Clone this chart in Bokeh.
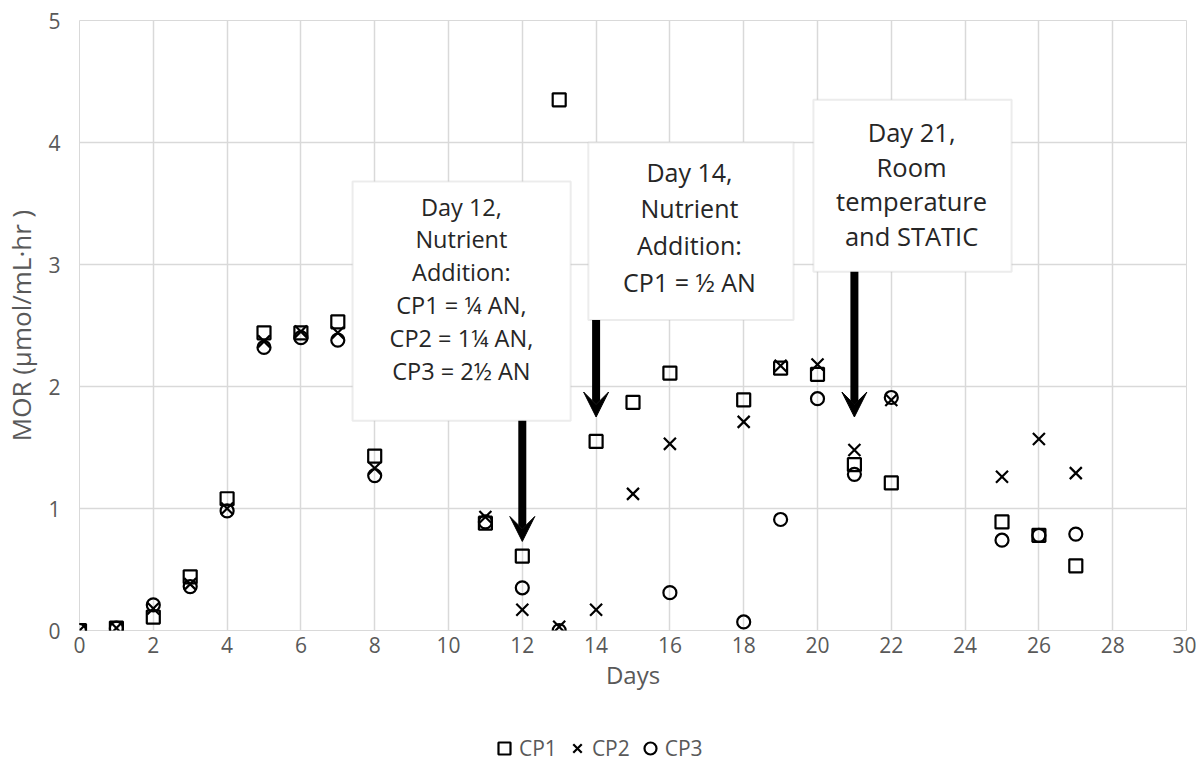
from bokeh.plotting import figure
from bokeh.layouts import column
from bokeh.models import (ColumnDataSource, BoxAnnotation, Label, Arrow, VeeHead,
                          Legend, LegendItem, FixedTicker)
from bokeh.embed import file_html
from bokeh.resources import INLINE
import numpy as np

# ---- data ----
days = [0, 1, 2, 3, 4, 5, 6, 7, 8, 11, 12, 13, 14, 15, 16, 18, 19, 20, 21, 22, 25, 26, 27]
cp1 = [0.0, 0.02, 0.11, 0.44, 1.08, 2.44, 2.44, 2.53, 1.43, 0.88, 0.61, 4.35, 1.55, 1.87, 2.11, 1.89, 2.15, 2.10, 1.36, 1.21, 0.89, 0.78, 0.53]
cp2 = [0.0, 0.02, 0.18, 0.38, 1.00, 2.37, 2.45, 2.44, 1.33, 0.93, 0.17, 0.03, 0.17, 1.12, 1.53, 1.71, 2.17, 2.18, 1.48, 1.89, 1.26, 1.57, 1.29]
cp3 = [0.0, 0.02, 0.21, 0.36, 0.98, 2.32, 2.40, 2.38, 1.27, 0.89, 0.35, 0.0, None, None, 0.31, 0.07, 0.91, 1.90, 1.28, 1.91, 0.74, 0.78, 0.79]
series_names = ["CP1", "CP2", "CP3"]

x_ticks = list(range(0, 31, 2))
y_ticks = [0, 1, 2, 3, 4, 5]

notes = [
    "Day 12,\nNutrient\nAddition:\nCP1 = ¼ AN,\nCP2 = 1¼ AN,\nCP3 = 2½ AN",
    "Day 14,\nNutrient\nAddition:\nCP1 = ½ AN",
    "Day 21,\nRoom\ntemperature\nand STATIC",
]
note_days = [12, 14, 21]

FONT = "Open Sans"
GRID = "#d9d9d9"
TXT = "#595959"

src = ColumnDataSource(dict(
    day=days,
    cp1=cp1,
    cp2=cp2,
    cp3=[np.nan if v is None else v for v in cp3],
))

p = figure(width=1196, height=693, output_backend="svg", toolbar_location=None,
           x_range=(0, 30), y_range=(0, 5),
           min_border_left=79, min_border_right=10, min_border_top=20, min_border_bottom=62)

p.outline_line_color = GRID
p.background_fill_color = "white"
p.border_fill_color = "white"

for ax in (p.xaxis, p.yaxis):
    ax.axis_line_color = None
    ax.major_tick_line_color = None
    ax.minor_tick_line_color = None
    ax.major_tick_out = 0
    ax.major_tick_in = 0
    ax.major_label_text_font = FONT
    ax.major_label_text_color = TXT
    ax.major_label_text_font_size = "21px"
    ax.axis_label_text_font = FONT
    ax.axis_label_text_color = TXT
    ax.axis_label_text_font_style = "normal"

p.xaxis.axis_label_text_font_size = "24px"
p.yaxis.axis_label_text_font_size = "26px"
p.xaxis.ticker = FixedTicker(ticks=x_ticks)
p.yaxis.ticker = FixedTicker(ticks=y_ticks)
p.xaxis.major_label_standoff = 6
p.yaxis.major_label_standoff = 19
p.xaxis.axis_label = "Days"
p.yaxis.axis_label = "MOR (µmol/mL·hr )"
p.xaxis.axis_label_standoff = 2
p.yaxis.axis_label_standoff = 6

p.xgrid.ticker = FixedTicker(ticks=x_ticks)
p.ygrid.ticker = FixedTicker(ticks=y_ticks)
p.xgrid.grid_line_color = GRID
p.ygrid.grid_line_color = GRID
p.xgrid.grid_line_width = 1.5
p.ygrid.grid_line_width = 1.5

marker_style = dict(line_color="black", line_width=2.2)
r1 = p.scatter("day", "cp1", source=src, marker="square", size=13, fill_color=None, **marker_style)
r2 = p.scatter("day", "cp2", source=src, marker="x", size=17, **marker_style)
r3 = p.scatter("day", "cp3", source=src, marker="circle", size=13, fill_color=None, **marker_style)

# annotation boxes (data coords)
boxes = [
    dict(left=7.40, right=13.31, top=3.68, bottom=1.72, tx=10.35, ty=2.80, fs=23.5, lh=1.03),
    dict(left=13.79, right=19.35, top=4.00, bottom=2.545, tx=16.53, ty=3.31, fs=25, lh=1.08),
    dict(left=19.89, right=25.26, top=4.35, bottom=2.94, tx=22.55, ty=3.66, fs=25.5, lh=1.02),
]
arrow_tips = [0.73, 1.75, 1.75]

for b, txt, d, tip in zip(boxes, notes, note_days, arrow_tips):
    p.add_layout(BoxAnnotation(left=b["left"], right=b["right"], top=b["top"], bottom=b["bottom"],
                               fill_color="white", fill_alpha=1.0,
                               line_color="#bfbfbf", line_width=2))
    p.add_layout(Label(x=b["tx"], y=b["ty"], text=txt, text_align="center",
                       text_baseline="middle", text_font=FONT,
                       text_font_size=f"{b['fs']}px", text_color="#262626",
                       text_line_height=b["lh"]))
    p.add_layout(Arrow(x_start=d, y_start=b["bottom"], x_end=d, y_end=tip,
                       line_color="black", line_width=8,
                       end=VeeHead(size=25, fill_color="black", line_color="black", line_width=1)))

# ---- legend strip below the chart (its proxy glyphs fall outside its range) ----
pl = figure(width=1196, height=80, output_backend="svg", toolbar_location=None,
            x_range=(100, 101), y_range=(0, 1),
            x_axis_location=None, y_axis_location=None,
            min_border=0, min_border_left=0, min_border_right=0,
            min_border_top=0, min_border_bottom=0)
pl.grid.visible = False
pl.outline_line_color = None
pl.background_fill_color = "white"
pl.border_fill_color = "white"

l1 = pl.scatter("day", "cp1", source=src, marker="square", size=13, fill_color=None, **marker_style)
l2 = pl.scatter("day", "cp2", source=src, marker="x", size=17, **marker_style)
l3 = pl.scatter("day", "cp3", source=src, marker="circle", size=13, fill_color=None, **marker_style)

legend = Legend(items=[LegendItem(label=n, renderers=[r]) for n, r in zip(series_names, [l1, l2, l3])],
                orientation="horizontal", location=(410, 10),
                label_text_font=FONT, label_text_font_size="21px", label_text_color=TXT,
                glyph_width=30, glyph_height=30, label_standoff=0, spacing=5,
                padding=0, margin=0, border_line_color=None, background_fill_alpha=0)
pl.add_layout(legend, "center")

layout = column(p, pl, spacing=0)
open("out.html", "w").write(file_html(layout, INLINE))
